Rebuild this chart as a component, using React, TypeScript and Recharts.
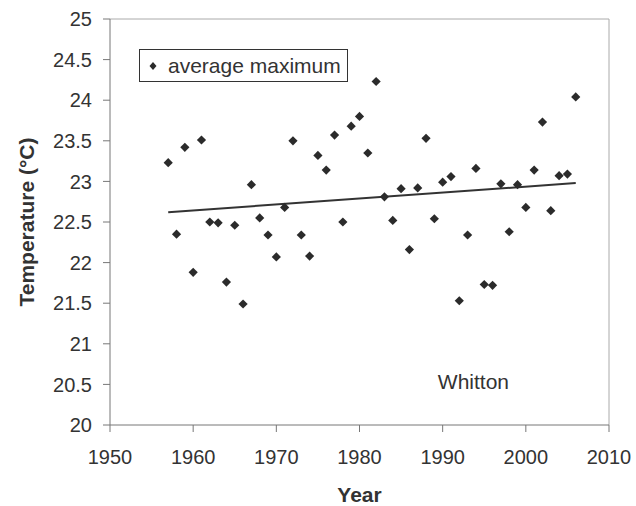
import React from 'react';
import { ComposedChart, Scatter, Line, XAxis, YAxis, Legend, ReferenceDot, ReferenceLine } from 'recharts';

const years = [
  1957, 1958, 1959, 1960, 1961, 1962, 1963, 1964, 1965, 1966,
  1967, 1968, 1969, 1970, 1971, 1972, 1973, 1974, 1975, 1976,
  1977, 1978, 1979, 1980, 1981, 1982, 1983, 1984, 1985, 1986,
  1987, 1988, 1989, 1990, 1991, 1992, 1993, 1994, 1995, 1996,
  1997, 1998, 1999, 2000, 2001, 2002, 2003, 2004, 2005, 2006,
];
const averageMaximum = [
  23.23, 22.35, 23.42, 21.88, 23.51, 22.5, 22.49, 21.76, 22.46, 21.49,
  22.96, 22.55, 22.34, 22.07, 22.68, 23.5, 22.34, 22.08, 23.32, 23.14,
  23.57, 22.5, 23.68, 23.8, 23.35, 24.23, 22.81, 22.52, 22.91, 22.16,
  22.92, 23.53, 22.54, 22.99, 23.06, 21.53, 22.34, 23.16, 21.73, 21.72,
  22.97, 22.38, 22.96, 22.68, 23.14, 23.73, 22.64, 23.07, 23.09, 24.04,
];
const trendYears = [1957, 2006];
const trendValues = [22.62, 22.98];
const xTicks = [1950, 1960, 1970, 1980, 1990, 2000, 2010];
const yTicks = [20, 20.5, 21, 21.5, 22, 22.5, 23, 23.5, 24, 24.5, 25];
const seriesName = 'average maximum';
const stationName = 'Whitton';
const stationAt = { year: 1993.7, temp: 20.53 };

const scatterData = years.map((y, i) => ({ year: y, temp: averageMaximum[i] }));
const trendData = trendYears.map((y, i) => ({ year: y, temp: trendValues[i] }));

const FONT = '"Liberation Sans", Arial, Helvetica, sans-serif';

const Diamond = (props: any) => {
  const { cx, cy } = props;
  if (cx == null || cy == null) return null;
  const r = 4.6;
  return (
    <polygon
      points={`${cx},${cy - r} ${cx + r},${cy} ${cx},${cy + r} ${cx - r},${cy}`}
      fill="#2b2b2b"
    />
  );
};

const YLabel = (props: any) => {
  const vb = props.viewBox || { x: 0, y: 19, width: 110, height: 406 };
  const x = vb.x + 27;
  const y = vb.y + vb.height / 2;
  return (
    <text
      x={x}
      y={y}
      dy="0.35em"
      transform={`rotate(-90, ${x}, ${y})`}
      textAnchor="middle"
      fontFamily={FONT}
      fontSize={21}
      fontWeight="bold"
      fill="#333"
    >
      Temperature (°C)
    </text>
  );
};

const XLabel = (props: any) => {
  const vb = props.viewBox || { x: 110, y: 425, width: 499, height: 81 };
  const x = vb.x + vb.width / 2;
  const y = vb.y + 70;
  return (
    <text x={x} y={y} dy="0.35em" textAnchor="middle" fontFamily={FONT} fontSize={21} fontWeight="bold" fill="#333">
      Year
    </text>
  );
};

const LegendBox = () => (
  <div
    style={{
      border: '1px solid #333',
      width: 207,
      height: 31,
      display: 'flex',
      alignItems: 'center',
      background: '#fff',
      color: '#333',
      fontFamily: FONT,
      fontSize: 21,
      lineHeight: '31px',
      whiteSpace: 'nowrap',
    }}
  >
    <svg width={28} height={31} style={{ display: 'block' }}>
      <polygon points="13,12 16.5,16 13,20 9.5,16" fill="#2b2b2b" />
    </svg>
    <span>{seriesName}</span>
  </div>
);

export default function App() {
  return (
    <div style={{ position: 'absolute', left: 0, top: 0, width: 636, height: 506, background: '#fff', fontFamily: FONT }}>
      <ComposedChart width={636} height={506} margin={{ top: 19, right: 27, bottom: 0, left: 0 }}>
        <XAxis
          type="number"
          dataKey="year"
          domain={[1950, 2010]}
          ticks={xTicks}
          height={81}
          tickSize={7}
          tickMargin={18}
          stroke="#777"
          tick={{ fill: '#333', fontSize: 20, fontFamily: FONT }}
          label={<XLabel />}
        />
        <YAxis
          type="number"
          domain={[20, 25]}
          ticks={yTicks}
          width={110}
          tickSize={7}
          tickMargin={11}
          stroke="#777"
          tick={{ fill: '#333', fontSize: 20, fontFamily: FONT }}
          label={<YLabel />}
        />
        <ReferenceLine y={25} stroke="#aaa" strokeWidth={1} />
        <ReferenceLine x={2010} stroke="#aaa" strokeWidth={1} />
        <Line
          data={trendData}
          dataKey="temp"
          stroke="#333"
          strokeWidth={2}
          dot={false}
          activeDot={false}
          legendType="none"
          isAnimationActive={false}
        />
        <Scatter
          data={scatterData}
          dataKey="temp"
          name={seriesName}
          fill="#2b2b2b"
          shape={<Diamond />}
          isAnimationActive={false}
        />
        <ReferenceDot
          x={stationAt.year}
          y={stationAt.temp}
          r={0}
          fill="none"
          stroke="none"
          label={{ value: stationName, position: 'center', fill: '#333', fontSize: 21, fontFamily: FONT }}
        />
        <Legend
          layout="vertical"
          align="center"
          verticalAlign="middle"
          content={<LegendBox />}
          wrapperStyle={{ position: 'absolute', left: 139, top: 49, width: 'auto', height: 'auto' }}
        />
      </ComposedChart>
    </div>
  );
}
